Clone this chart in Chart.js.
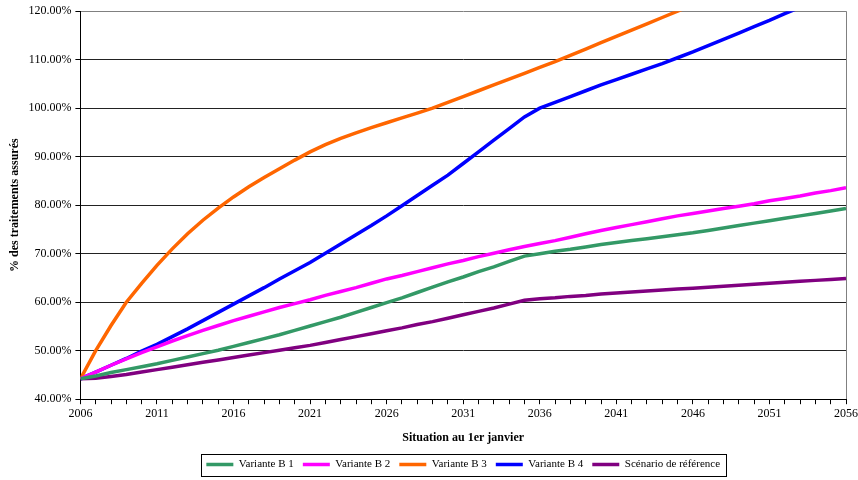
<!DOCTYPE html>
<html lang="fr">
<head>
<meta charset="utf-8">
<title>% des traitements assurés</title>
<script src="https://cdn.jsdelivr.net/npm/chart.js@4/dist/chart.umd.min.js"></script>
<style>
  html, body { margin: 0; padding: 0; background: #fff; }
</style>
</head>
<body>
<canvas id="chart" width="858" height="480"></canvas>
<script>
// ── Data (en % des traitements assurés, au 1er janvier) ──
const YEARS = Array.from({ length: 51 }, (_, i) => String(2006 + i));

const VARIANTE_B1 = [
  44.2, 44.8, 45.5, 46.1, 46.7, 47.3, 48.0, 48.7, 49.4, 50.1,
  50.9, 51.7, 52.5, 53.3, 54.2, 55.1, 56.0, 56.9, 57.9, 58.9,
  59.9, 60.9, 62.0, 63.1, 64.2, 65.2, 66.3, 67.3, 68.4, 69.5,
  70.0, 70.5, 70.9, 71.4, 71.9, 72.3, 72.7, 73.1, 73.5, 73.9,
  74.3, 74.8, 75.3, 75.8, 76.3, 76.8, 77.3, 77.8, 78.3, 78.8, 79.3
];
const VARIANTE_B2 = [
  44.2, 45.6, 47.0, 48.3, 49.6, 50.8, 52.0, 53.1, 54.2, 55.2,
  56.2, 57.1, 58.0, 58.9, 59.7, 60.5, 61.4, 62.2, 63.0, 63.9,
  64.8, 65.5, 66.3, 67.1, 67.9, 68.6, 69.4, 70.1, 70.8, 71.5,
  72.1, 72.7, 73.4, 74.1, 74.8, 75.4, 76.0, 76.6, 77.2, 77.8,
  78.3, 78.8, 79.3, 79.8, 80.3, 80.9, 81.4, 81.9, 82.5, 83.0, 83.6
];
const VARIANTE_B3 = [
  44.2, 50.0, 55.2, 60.0, 63.9, 67.6, 71.0, 74.1, 76.9, 79.4,
  81.7, 83.8, 85.7, 87.5, 89.3, 91.0, 92.5, 93.8, 94.9, 96.0,
  97.0, 98.0, 99.0, 100.0, 101.2, 102.4, 103.6, 104.8, 106.0, 107.2,
  108.4, 109.6, 110.9, 112.2, 113.5, 114.8, 116.1, 117.4, 118.7, 120.0,
  121.3, 122.6, 123.9, 125.2, 126.5, 127.8, 129.1, 130.4, 131.7, 133.0, 134.3
];
const VARIANTE_B4 = [
  44.2, 45.6, 47.0, 48.4, 49.9, 51.3, 52.9, 54.5, 56.2, 57.9,
  59.6, 61.3, 63.0, 64.8, 66.5, 68.2, 70.1, 72.0, 73.9, 75.8,
  77.8, 79.9, 82.0, 84.1, 86.2, 88.6, 91.0, 93.4, 95.8, 98.2,
  100.0, 101.2, 102.4, 103.6, 104.8, 105.9, 107.0, 108.1, 109.2, 110.4,
  111.6, 112.9, 114.2, 115.5, 116.8, 118.1, 119.5, 120.8, 122.2, 123.5, 124.9
];
const REFERENCE = [
  44.2, 44.3, 44.7, 45.1, 45.6, 46.1, 46.6, 47.1, 47.6, 48.1,
  48.6, 49.1, 49.6, 50.1, 50.6, 51.1, 51.7, 52.3, 52.9, 53.5,
  54.1, 54.7, 55.4, 56.0, 56.7, 57.4, 58.1, 58.8, 59.6, 60.4,
  60.7, 60.9, 61.2, 61.4, 61.7, 61.9, 62.1, 62.3, 62.5, 62.7,
  62.9, 63.1, 63.3, 63.5, 63.7, 63.9, 64.1, 64.3, 64.5, 64.7, 64.9
];

const SERIES = [
  { label: "Variante B 1", data: VARIANTE_B1, color: "#339966" },
  { label: "Variante B 2", data: VARIANTE_B2, color: "#ff00ff" },
  { label: "Variante B 3", data: VARIANTE_B3, color: "#ff6600" },
  { label: "Variante B 4", data: VARIANTE_B4, color: "#0000ff" },
  { label: "Scénario de référence", data: REFERENCE, color: "#800080" }
];

const SERIF = "'Liberation Serif', 'Times New Roman', serif";

// ── Cadre autour des entrées de la légende ──
const legendFrame = {
  id: "legendFrame",
  afterDraw(chart) {
    const boxes = chart.legend && chart.legend.legendHitBoxes;
    if (!boxes || !boxes.length) return;
    const left   = Math.min(...boxes.map(b => b.left)) - 5;
    const right  = Math.max(...boxes.map(b => b.left + b.width)) + 6;
    const top    = Math.min(...boxes.map(b => b.top)) - 5;
    const bottom = Math.max(...boxes.map(b => b.top + b.height)) + 6;
    const ctx = chart.ctx;
    ctx.save();
    ctx.strokeStyle = "#000";
    ctx.lineWidth = 1;
    ctx.strokeRect(Math.round(left) + 0.5, Math.round(top) + 0.5,
                   Math.round(right - left), Math.round(bottom - top));
    ctx.restore();
  }
};

new Chart(document.getElementById("chart"), {
  type: "line",
  data: {
    labels: YEARS,
    datasets: SERIES.map(s => ({
      label: s.label,
      data: s.data,
      borderColor: s.color,
      backgroundColor: s.color,
      borderWidth: 3.5,
      pointRadius: 0,
      tension: 0,
      clip: 0
    }))
  },
  options: {
    responsive: false,
    animation: false,
    layout: { padding: { top: 11, left: 8, right: 0, bottom: 0 } },
    scales: {
      x: {
        offset: false,
        // le dernier libellé (2056) peut déborder jusqu'au bord du canevas
        afterFit: scale => { scale.paddingRight = 12; },
        border: { color: "#000", width: 1 },
        grid: {
          drawOnChartArea: true,
          color: ctx => ctx.index === YEARS.length - 1 ? "#808080" : "transparent",
          tickColor: "#000",
          tickLength: 5
        },
        ticks: {
          autoSkip: false,
          maxRotation: 0,
          color: "#000",
          font: { family: SERIF, size: 12 },
          padding: 2,
          callback: (v, i) => (i % 5 === 0 ? YEARS[i] : "")
        },
        title: {
          display: true,
          text: "Situation au 1er janvier",
          color: "#000",
          font: { family: SERIF, size: 12, weight: "bold" },
          padding: { top: 8, bottom: 5 }
        }
      },
      y: {
        min: 40,
        max: 120,
        border: { color: "#000", width: 1 },
        grid: {
          color: ctx => ctx.tick && ctx.tick.value === 120 ? "#808080" : "#222",
          tickColor: "#000",
          tickLength: 5
        },
        ticks: {
          stepSize: 10,
          color: "#000",
          font: { family: SERIF, size: 12 },
          padding: 4,
          callback: v => v.toFixed(2) + "%"
        },
        title: {
          display: true,
          text: "% des traitements assurés",
          color: "#000",
          font: { family: SERIF, size: 12, weight: "bold" },
          padding: { top: 0, bottom: 2 }
        }
      }
    },
    plugins: {
      tooltip: { enabled: false },
      legend: {
        position: "bottom",
        fullSize: false,
        labels: {
          color: "#000",
          font: { family: SERIF, size: 11 },
          usePointStyle: true,
          pointStyle: "line",
          pointStyleWidth: 27,
          boxHeight: 11,
          padding: 9
        }
      }
    }
  },
  plugins: [legendFrame]
});
</script>
</body>
</html>
